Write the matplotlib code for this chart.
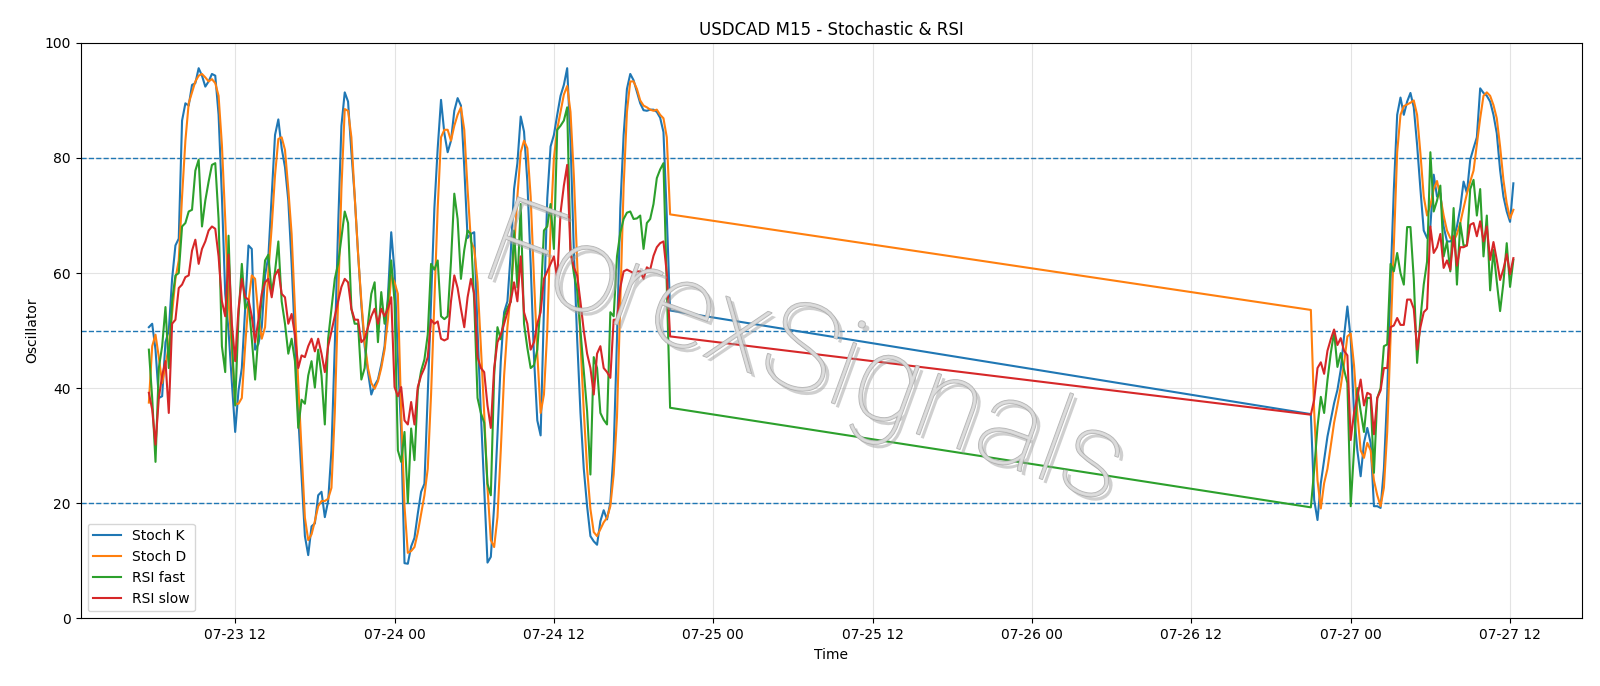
import numpy as np
import pandas as pd
import matplotlib
matplotlib.use("Agg")
import matplotlib.pyplot as plt
import matplotlib.dates as mdates
import matplotlib.patheffects as pe

# ---------------- data ----------------
seg1_start = "2020-07-23 05:30"   # Thu session
seg2_start = "2020-07-26 21:00"   # Sunday reopen
freq = "15min"

stoch_k_1 = [
    50.6, 51.2, 46.7, 38.3, 38.6, 48, 50, 59, 64.8, 66,
    86.5, 89.5, 89.1, 92.7, 93, 95.6, 94.3, 92.4, 93.3, 94.6,
    94.3, 87.5, 73.3, 56.4, 50, 41, 32.4, 39.6, 43.5, 53.8,
    64.8, 64.2, 46.7, 47.7, 50.6, 59.6, 62.9, 73.3, 84, 86.7,
    81.7, 78.4, 72.6, 61.6, 48.6, 35, 24.7, 14.3, 11, 16,
    16.5, 21.4, 22, 17.6, 20.4, 29.2, 47.3, 68, 85.6, 91.4,
    89.8, 81, 73.3, 63.5, 54.5, 47.3, 42.8, 38.9, 40.5, 41.5,
    44.1, 47.3, 55.8, 67.1, 60.3, 45.4, 32.4, 9.6, 9.5, 12.5,
    14, 18.2, 22, 23.4, 38.9, 55.1, 71.3, 81.7, 90.1, 84.3,
    81, 83, 88.2, 90.4, 89.1, 78.4, 66.1, 66.8, 67.1, 50,
    35.7, 22.7, 9.7, 10.7, 19.5, 31.8, 44.7, 53.2, 55.1, 63.5,
    74.6, 79.1, 87.2, 84.6, 75.9, 61.6, 45.4, 34.4, 31.8, 53.8,
    73, 82, 84, 87.5, 90.8, 92.7, 95.6, 83, 64, 48.6,
    35.7, 26, 19.5, 14.3, 13.4, 12.8, 16.9, 18.8, 17.2, 20.1,
    29.2, 48.6, 71.3, 84, 92, 94.6, 93.5, 91.5, 89.5, 88.3,
    88.2, 88.4, 88.4, 88, 87, 84.5, 70, 53.5,
]
stoch_k_2 = [
    35.5, 20.6, 17.1, 23.5, 27.5, 31.6, 34.5, 37.4, 39.7, 43.2,
    49, 54.2, 48.6, 35.7, 29.2, 24.7, 30.5, 33.1, 30.5, 19.5,
    19.5, 19.2, 26, 38.9, 58.4, 74.6, 87.5, 90.5, 87.5, 89.8,
    91.3, 88.8, 82.3, 74.6, 67.4, 66.1, 68.1, 77.1, 73.3, 73.9,
    68.1, 65.5, 65.5, 66.1, 68.1, 71.3, 75.9, 73.9, 79.7, 81.7,
    83.6, 92.1, 91.3, 90.8, 89.8, 87.5, 84.3, 77.9, 73.3, 70.7,
    68.9, 75.6,
]

stoch_d_1 = [
    37.5, 47.3, 49.3, 45.4, 40.9, 44, 47.3, 53, 59, 62.2,
    73.3, 83, 89.5, 91.4, 93.3, 94.3, 94.6, 94, 93.3, 93.7,
    93, 90.8, 82.3, 69.4, 55.1, 46.7, 37.3, 37.3, 38.3, 47.3,
    55, 59.6, 59, 52.5, 48.6, 50.6, 60.3, 68, 77, 83.3,
    83.6, 81.4, 74.6, 66.8, 53.8, 40.8, 29.2, 17.5, 13.6, 14.6,
    16.9, 19.5, 20.4, 20.4, 20.8, 22.7, 35.7, 55.1, 74.6, 88.5,
    88.2, 83.6, 73.3, 63.5, 55.1, 48, 43.5, 40.9, 39.9, 41.2,
    43.5, 46.7, 51.9, 59.6, 58.4, 56.4, 35.7, 19.5, 11.4, 11.7,
    12.4, 14.9, 18.2, 21.4, 26, 38.9, 55.1, 71.3, 83.6, 84.9,
    84.9, 83, 85.6, 87.5, 88.8, 84.9, 74.6, 65.5, 64.2, 58.4,
    47.3, 35.7, 22.7, 13.6, 12.4, 17.6, 29.2, 42.2, 50.6, 56.4,
    64.2, 73.3, 81, 83, 81.7, 73.3, 59, 46, 35.7, 38.9,
    50, 68, 80, 85, 88, 91, 92.5, 88, 77, 62,
    48, 36, 26, 19, 15, 14.3, 15.5, 16.7, 17.5, 19.5,
    25, 35, 55, 75, 88, 93.3, 93.3, 92, 90, 89.1,
    88.8, 88.4, 88.2, 88.4, 87.5, 86.9, 83.6, 70.2,
]
stoch_d_2 = [
    53.6, 36, 24, 19.1, 23.5, 26, 30, 34, 37, 40.3,
    44.3, 49, 49.5, 44, 35.7, 29.2, 27.9, 30.5, 29.2, 24,
    21.4, 19.5, 22.7, 32.4, 48.6, 64.8, 81, 87.5, 89, 89.3,
    89.6, 90, 87.5, 80.8, 73.3, 70, 71.8, 74.6, 76, 73.3,
    70, 67.4, 66.1, 65.5, 66.8, 68.7, 71.3, 73.8, 75.9, 77.8,
    82.3, 86.9, 90.8, 91.4, 90.8, 89.2, 86.9, 82, 76.2, 72.1,
    69.5, 71,
]

rsi_fast_1 = [
    46.7, 38.3, 27.2, 43.5, 47.3, 54.1, 43.5, 55.1, 59.6, 60,
    68.1, 68.7, 70.7, 71, 77.8, 79.7, 68.1, 72.6, 75.9, 78.8,
    79.1, 69.4, 47.3, 42.8, 66.5, 48.6, 37, 52.5, 61.6, 53.8,
    55.1, 48.6, 41.5, 49.3, 55.8, 62.2, 63.2, 56.4, 60.3, 65.5,
    55.1, 51.2, 46, 48.6, 44.7, 33.1, 38, 37.3, 42.2, 44.7,
    40.1, 46.7, 42.2, 33.7, 48.6, 53.8, 59, 61.6, 66.1, 70.7,
    68.7, 53.8, 51.2, 51.2, 41.5, 43.5, 51.2, 56.4, 58.4, 48,
    56.7, 51.2, 55.1, 62.2, 55.1, 29.2, 27.2, 32.4, 20.1, 33,
    27.5, 39.6, 43, 45, 49.3, 61.6, 60.6, 62.2, 52.5, 52,
    52.5, 62, 73.8, 69.4, 59, 64, 67.4, 66.8, 55, 38.3,
    35.7, 34, 23.4, 21.4, 42.2, 50.6, 48.5, 52.5, 54, 55,
    67.4, 57.5, 72, 51.2, 47, 43.5, 44, 46.7, 55, 67.4,
    68.1, 72, 64.2, 84.9, 85.6, 86.5, 88.8, 64.2, 60, 57,
    50, 43, 36, 25, 45.4, 43.5, 35.7, 34.5, 33.7, 53.2,
    52.5, 62.9, 67, 69.4, 70.5, 70.7, 69.4, 69.5, 70, 64.2,
    68.7, 69.4, 72, 76.5, 78, 79.1, 58, 36.6,
]
rsi_fast_2 = [
    19.3, 25.8, 33.3, 38.5, 35.7, 41.4, 46.1, 49.8, 43.7, 46.1,
    43.2, 40.9, 19.5, 29.2, 40, 36, 32.4, 38.3, 38.3, 25.3,
    38.3, 40, 47.3, 47.6, 61.6, 60.3, 63.5, 60, 58, 68,
    68, 59, 44.4, 52, 58, 62, 81, 70.7, 72.6, 75.2,
    62.9, 65.5, 60.3, 71.3, 58, 68.7, 64.8, 64.8, 74.6, 76.2,
    70, 74.6, 62.9, 70, 57, 64, 58.5, 53.4, 58.3, 65.2,
    57.6, 62.3,
]

rsi_slow_1 = [
    39.2, 36.3, 30.2, 38.3, 42.2, 44.7, 35.7, 51.2, 51.9, 57.4,
    58, 59.3, 59.6, 63.9, 65.8, 61.6, 64.2, 65.5, 67.4, 68.1,
    67.7, 62.9, 55.1, 52.5, 63.2, 51.2, 44.7, 53.8, 59, 55.8,
    55.4, 52.5, 48, 51.9, 56.4, 58.4, 59, 55.8, 59.6, 60.6,
    56.4, 55.8, 51.2, 52.9, 49.3, 43.5, 45.7, 45.4, 47.3, 48.6,
    46.4, 48.6, 46, 42.8, 47.3, 49.9, 52.5, 55.1, 57.6, 59,
    58.4, 53.8, 51.9, 51.9, 48, 48.6, 50.6, 52.5, 53.8, 51.2,
    53.8, 52.5, 53.8, 55.8, 40.2, 38.6, 40.2, 34.4, 33.7, 37.6,
    33.7, 40.2, 42.2, 43.5, 45.4, 51.9, 51.2, 51.6, 48.6, 48.3,
    48.6, 55.1, 59.6, 57.4, 53.8, 50.6, 55.8, 59, 56.4, 45.4,
    43.5, 42.8, 37, 33.1, 43.5, 48, 49.3, 51.2, 53.2, 55.1,
    58.4, 55.1, 62.9, 53.2, 51.2, 46.7, 48, 51.2, 53.2, 59,
    60.3, 61.6, 62.9, 59, 70.5, 75.2, 78.8, 63.5, 61, 59.6,
    55, 50, 46, 43.5, 38.9, 46, 47.3, 43.5, 42.8, 41.8,
    51.9, 51.9, 57.5, 60.3, 60.6, 60.3, 60, 60.3, 60.3, 59,
    61, 60.6, 63, 64.5, 65.2, 65.5, 60, 49,
]
rsi_slow_2 = [
    35.4, 38, 43.5, 44.5, 42.5, 46.5, 48.5, 50.2, 47.5, 48.7,
    46.5, 45.7, 31, 35.7, 38.5, 41.5, 37, 39.2, 38.9, 32,
    38.3, 39.6, 43.5, 43.5, 50.6, 50.9, 52.2, 51, 51, 55.4,
    55.4, 53.8, 46.7, 50.6, 53.2, 53.8, 68.1, 63.5, 64.5, 66.8,
    60.9, 62.2, 60.6, 66.4, 61.3, 64.5, 64.5, 64.8, 68.4, 68.7,
    66.4, 69, 65.5, 68.1, 62.3, 65.4, 62.3, 58.8, 60.7, 63.3,
    59.8, 62.6,
]

levels = [20, 50, 80]
series_labels = ["Stoch K", "Stoch D", "RSI fast", "RSI slow"]
title = "USDCAD M15 - Stochastic & RSI"
watermark = "ForexSignals"

# ---------------- build ----------------
times = pd.date_range(seg1_start, periods=len(stoch_k_1), freq=freq).append(
    pd.date_range(seg2_start, periods=len(stoch_k_2), freq=freq))
series = [stoch_k_1 + stoch_k_2, stoch_d_1 + stoch_d_2,
          rsi_fast_1 + rsi_fast_2, rsi_slow_1 + rsi_slow_2]
colors = ["#1f77b4", "#ff7f0e", "#2ca02c", "#d62728"]

fig = plt.figure(figsize=(16, 6.86), dpi=100)
ax = fig.add_axes([0.0504, 0.0985, 0.9381, 0.839])

for vals, lab, c in zip(series, series_labels, colors):
    ax.plot(times, vals, color=c, lw=1.5, label=lab, zorder=3)

for lv in levels:
    ax.axhline(lv, color="#1f77b4", ls="--", lw=1.0, zorder=2)

ax.set_ylim(0, 100)
ax.grid(True, color="#dddddd", lw=0.8, alpha=0.8, zorder=0)
ax.xaxis.set_major_locator(mdates.HourLocator(byhour=[0, 12]))
ax.xaxis.set_major_formatter(mdates.DateFormatter("%m-%d %H"))
ax.set_title(title, fontsize=12)
ax.set_xlabel("Time", fontsize=10)
ax.set_ylabel("Oscillator", fontsize=10)
ax.legend(loc="lower left", fontsize=10)

# watermark: light glyphs with grey outline and soft shadow
ax.text(0.482, 0.452, watermark, transform=ax.transAxes, fontsize=87,
        family=["Roboto", "DejaVu Sans"], weight="light",
        rotation=-20, rotation_mode="anchor", ha="center", va="center",
        color="#dcdcdc", alpha=0.8, zorder=4,
        path_effects=[pe.SimplePatchShadow(offset=(3, -3), shadow_rgbFace="#a0a0a0", alpha=0.5),
                      pe.Stroke(linewidth=1.0, foreground="#a0a0a0"),
                      pe.Normal()])

fig.savefig("out.png", dpi=100)
